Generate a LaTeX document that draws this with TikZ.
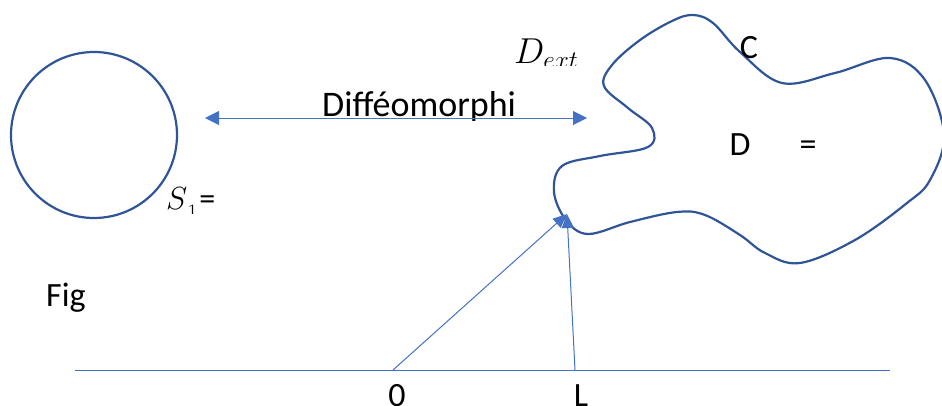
\RequirePackage{fix-cm}
\documentclass[tikz,border=0pt]{standalone}
\usepackage{fontspec}
\setmainfont{Carlito}
\usetikzlibrary{arrows.meta}
\definecolor{curveblue}{HTML}{2F5597}
\definecolor{lineblue}{HTML}{4472C4}
\tikzset{
  curve/.style={draw=curveblue, line width=2.2pt},
  thinline/.style={draw=lineblue, line width=1pt},
  tipline/.style={thinline, -{Triangle[length=14pt,width=12pt]}},
  lbl/.style={inner sep=0pt, font=\fontsize{34}{36}\selectfont},
}
\begin{document}
\begin{tikzpicture}[x=1pt,y=-1pt]
\useasboundingbox (0,0) rectangle (942,405);
% circle S1
\node[curve, circle, minimum size=166pt, inner sep=0pt] (S) at (94,135) {};
% double arrow
\coordinate (al) at (205,118);
\coordinate (ar) at (587,118);
\begin{scope}
\clip (300,80) rectangle (560,120);
\node[inner sep=0pt, anchor=base west, font=\fontsize{36}{38}\selectfont] (diff) at (322,116) {Difféomorphi};
\end{scope}
\draw[thinline, {Triangle[length=14pt,width=14pt]}-{Triangle[length=14pt,width=14pt]}] (al) -- (ar);
% blob
\draw[curve] plot[smooth cycle, tension=0.6] coordinates {
(693,15) (713,23) (740,52) (782,83) (835,73) (890,58) (925,80) (944,135)
(930,180) (907,203) (855,240) (800,263) (765,253) (740,235) (705,215) (677,212)
(630,222) (588,234) (566,220) (554,192) (562,166) (600,156) (648,147)
(652,128) (628,108) (604,86) (612,65) (640,40) (672,21)};
% labels
\node[lbl] (C) at (749,48) {C};
\node[lbl, anchor=base] (D) at (740,155) {D};
\node[lbl, anchor=base] (eq) at (808,155) {=};
\begin{scope}
\clip (500,20) rectangle (600,65);
\node[inner sep=0pt, anchor=base west, font=\fontsize{36}{38}\selectfont] (dext) at (514,63) {$D_{ext}$};
\end{scope}
\begin{scope}
\clip (150,170) rectangle (240,213);
\node[inner sep=0pt, anchor=base west, font=\fontsize{32}{34}\selectfont] (s1) at (166,209) {$S$\raisebox{-10pt}{\fontsize{22}{24}\selectfont$1$}\hspace{2pt}=};
\end{scope}
\begin{scope}
\clip (30,270) rectangle (120,311);
\node[lbl, anchor=base west] (fig) at (46,306) {Fig};
\end{scope}
% axis
\coordinate (xa) at (75,370);
\coordinate (xb) at (890,370);
\draw[thinline] (xa) -- (xb);
\coordinate (o) at (393,370);
\coordinate (l) at (575,370);
\coordinate (tip) at (567,214);
\draw[tipline] (o) -- (tip);
\draw[tipline] (l) -- (tip);
\begin{scope}
\clip (0,380) rectangle (942,405);
\node[lbl, anchor=base] (zero) at (397,406) {0};
\node[lbl, anchor=base] (L) at (581,406) {L};
\end{scope}
\end{tikzpicture}
\end{document}
